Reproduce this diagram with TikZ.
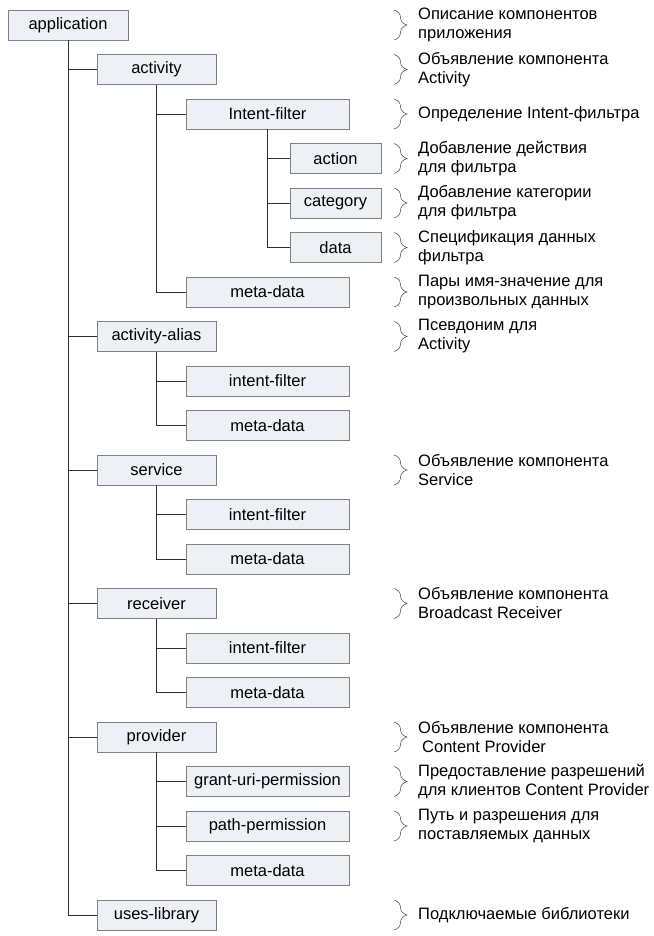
\documentclass[tikz,border=0pt]{standalone}
\usepackage{fontspec}
\setmainfont{Liberation Sans}
\usetikzlibrary{decorations.pathreplacing}
\definecolor{boxfill}{HTML}{EDF0F5}
\definecolor{boxline}{HTML}{808080}
\definecolor{conn}{HTML}{303030}
\begin{document}
\begin{tikzpicture}[x=1pt,y=-1pt,
  box/.style={draw=boxline, fill=boxfill, line width=0.9pt, minimum height=30pt, inner sep=0pt,
    font=\fontsize{16.5}{19}\selectfont},
  lvA/.style={box, minimum width=119pt},
  lvB/.style={box, minimum width=163pt},
  lvC/.style={box, minimum width=91pt},
  conline/.style={draw=conn, line width=0.9pt},
  bracestyle/.style={draw=black!75, line width=0.5pt, decorate, decoration={brace, amplitude=13pt, aspect=0.5}},
  lbl/.style={anchor=west, align=left, inner sep=0pt, font=\fontsize{16.5}{19}\selectfont}
]
\useasboundingbox (0,0) rectangle (653,936);
\fill[white] (0,0) rectangle (653,936);

% nodes
\node[box, minimum width=120pt] (app) at (68,25) {application};
\node[lvA] (act) at (156.5,69.5) {activity};
\node[lvB] (if1) at (267.5,114) {Intent-filter};
\node[lvC] (action) at (335.5,158.5) {action};
\node[lvC] (category) at (335.5,203) {category};
\node[lvC] (data) at (335.5,247.5) {data};
\node[lvB] (md1) at (267.5,292) {meta-data};
\node[lvA] (alias) at (156.5,336.5) {activity-alias};
\node[lvB] (if2) at (267.5,381) {intent-filter};
\node[lvB] (md2) at (267.5,425.5) {meta-data};
\node[lvA] (service) at (156.5,470) {service};
\node[lvB] (if3) at (267.5,514.5) {intent-filter};
\node[lvB] (md3) at (267.5,559) {meta-data};
\node[lvA] (receiver) at (156.5,603.5) {receiver};
\node[lvB] (if4) at (267.5,648) {intent-filter};
\node[lvB] (md4) at (267.5,692.5) {meta-data};
\node[lvA] (provider) at (156.5,737) {provider};
\node[lvB] (grant) at (267.5,781.5) {grant-uri-permission};
\node[lvB] (path) at (267.5,826) {path-permission};
\node[lvB] (md5) at (267.5,870.5) {meta-data};
\node[lvA] (uses) at (156.5,915) {uses-library};

% connectors
\foreach \c in {act,alias,service,receiver,provider,uses}
  \draw[conline] (app.south) |- (\c.west);
\foreach \c in {if1,md1}
  \draw[conline] (act.south) |- (\c.west);
\foreach \c in {action,category,data}
  \draw[conline] (if1.south) |- (\c.west);
\foreach \c in {if2,md2}
  \draw[conline] (alias.south) |- (\c.west);
\foreach \c in {if3,md3}
  \draw[conline] (service.south) |- (\c.west);
\foreach \c in {if4,md4}
  \draw[conline] (receiver.south) |- (\c.west);
\foreach \c in {grant,path,md5}
  \draw[conline] (provider.south) |- (\c.west);

% labels with braces
\foreach \y/\t [count=\i] in {
  25/{Описание компонентов\\приложения},
  69.5/{Объявление компонента\\Activity},
  114/{Определение Intent-фильтра},
  158.5/{Добавление действия\\для фильтра},
  203/{Добавление категории\\для фильтра},
  247.5/{Спецификация данных\\фильтра},
  292/{Пары имя-значение для\\произвольных данных},
  336.5/{Псевдоним для\\Activity},
  470/{Объявление компонента\\Service},
  603.5/{Объявление компонента\\Broadcast Receiver},
  737/{Объявление компонента\\\hspace*{4pt}Content Provider},
  781.5/{Предоставление разрешений\\для клиентов Content Provider},
  826/{Путь и разрешения для\\поставляемых данных},
  915/{Подключаемые библиотеки}}
{
  \node[lbl] (l\i) at (418,\y) {\t};
  \draw[bracestyle] (394,\y-15) -- (394,\y+15);
}
\end{tikzpicture}
\end{document}
